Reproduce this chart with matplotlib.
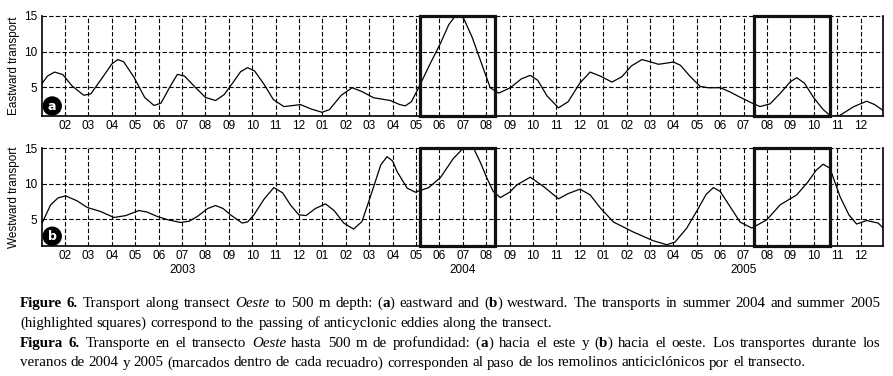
import matplotlib
matplotlib.use("Agg")
import matplotlib.pyplot as plt
import matplotlib.transforms as mtransforms
from matplotlib.patches import Rectangle
from matplotlib import font_manager

# ---------------- data (months since Jan 2003) ----------------
east_month = [0.0, 0.25, 0.55, 0.9, 1.3, 1.8, 2.1, 2.6, 3.0, 3.25, 3.5, 3.94, 4.4, 4.8, 5.1, 5.5,
              5.8, 6.1, 6.6, 7.0, 7.43, 7.8, 8.2, 8.5, 8.8, 9.1, 9.49, 9.9, 10.35, 10.7, 11.06,
              11.5, 11.98, 12.3, 12.8, 13.27, 13.7, 14.19, 14.9, 15.3, 15.54, 15.8, 16.11, 16.6,
              17.04, 17.4, 17.7, 18.03, 18.4, 18.75, 19.17, 19.53, 20.03, 20.5, 20.88, 21.2, 21.6,
              22.09, 22.5, 23.0, 23.44, 23.87, 24.37, 24.8, 25.2, 25.65, 26.0, 26.36, 26.7, 27.0,
              27.3, 27.7, 28.14, 28.5, 29.0, 29.4, 29.85, 30.3, 30.7, 31.13, 31.6, 32.0, 32.27,
              32.6, 32.98, 33.4, 33.76, 34.1, 34.7, 35.26, 35.6, 35.97]
east_value = [5.5, 6.6, 7.15, 6.8, 5.2, 3.9, 4.1, 6.4, 8.3, 8.9, 8.6, 6.45, 3.6, 2.47, 2.8, 5.2,
              6.83, 6.6, 4.9, 3.6, 3.17, 4.0, 5.8, 7.2, 7.77, 7.3, 5.5, 3.3, 2.32, 2.45, 2.6,
              2.0, 1.52, 1.9, 3.9, 4.96, 4.4, 3.55, 3.17, 2.6, 2.42, 3.0, 4.96, 8.3,
              11.15, 13.8, 15.1, 14.7, 12.0, 8.8, 4.96, 4.2, 4.96, 6.2, 6.69, 6.0, 3.8,
              2.14, 3.0, 5.6, 7.15, 6.6, 5.75, 6.5, 8.0, 8.9, 8.6, 8.24, 8.4, 8.56,
              8.1, 6.6, 5.14, 4.95, 4.96, 4.4, 3.63, 2.9, 2.32, 2.7, 4.3, 5.8, 6.36,
              5.6, 3.63, 1.9, 0.9, 1.06, 2.3, 3.07, 2.6, 1.76]

west_month = [0.0, 0.38, 0.7, 1.02, 1.5, 1.95, 2.52, 3.09, 3.6, 4.15, 4.5, 4.94, 5.4, 5.93, 6.3,
              6.65, 7.1, 7.43, 7.75, 8.07, 8.57, 8.8, 9.07, 9.5, 9.92, 10.3, 10.63, 10.99, 11.3,
              11.7, 12.13, 12.5, 12.91, 13.33, 13.69, 14.12, 14.49, 14.76, 15.0, 15.19, 15.62,
              15.97, 16.54, 17.04, 17.6, 18.1, 18.46, 18.75, 19.03, 19.3, 19.6, 20.0, 20.31,
              20.88, 21.45, 22.09, 22.5, 23.01, 23.44, 23.87, 24.44, 25.29, 26.14, 26.72, 27.07,
              27.57, 28.07, 28.4, 28.71, 29.0, 29.28, 29.85, 30.35, 30.99, 31.56, 32.27, 32.76,
              33.1, 33.4, 33.69, 34.12, 34.5, 34.83, 35.26, 35.75, 35.97]
west_value = [4.3, 7.01, 8.0, 8.28, 7.6, 6.64, 6.07, 5.23, 5.5, 6.21, 6.0, 5.37, 4.9, 4.52, 4.7,
              5.37, 6.5, 6.92, 6.5, 5.6, 4.44, 4.6, 5.6, 7.8, 9.45, 8.7, 7.01, 5.6, 5.5,
              6.5, 7.15, 6.2, 4.44, 3.59, 4.66, 8.89, 12.65, 13.82, 13.2, 11.7, 9.37,
              8.8, 9.45, 10.86, 13.59, 15.3, 15.0, 13.0, 10.77, 8.9, 8.04, 8.8, 9.83,
              10.92, 9.6, 7.86, 8.6, 9.23, 8.42, 6.6, 4.58, 3.17, 1.94, 1.38, 1.76,
              3.73, 6.55, 8.5, 9.45, 8.9, 7.48, 4.58, 3.73, 4.9, 7.01, 8.42, 10.3,
              11.9, 12.75, 12.18, 8.18, 5.6, 4.3, 4.8, 4.44, 3.73]

box_start = [16.15, 30.44]   # highlighted periods (months since Jan 2003)
box_end = [19.39, 33.69]

tick_months = list(range(1, 36))
tick_labels = ["%02d" % (m % 12 + 1) for m in tick_months]
year_labels = ["2003", "2004", "2005"]
year_pos = [6, 18, 30]
y_ticks = [5, 10, 15]

# ---------------- fonts ----------------
names = {f.name for f in font_manager.fontManager.ttflist}
NARROW = "Liberation Sans Narrow" if "Liberation Sans Narrow" in names else "Liberation Sans"
SERIF = "Liberation Serif"

W, H = 893, 376
fig = plt.figure(figsize=(W / 100, H / 100), dpi=100)

def axes_rect(x0, y0, x1, y1):
    return [x0 / W, 1 - y1 / H, (x1 - x0) / W, (y1 - y0) / H]

ax_a = fig.add_axes(axes_rect(41.7, 16, 883.3, 116))
ax_b = fig.add_axes(axes_rect(41.7, 148.3, 883.3, 246))

panels = [(ax_a, east_month, east_value, "Eastward transport", "a", (1.0, 15.0)),
          (ax_b, west_month, west_value, "Westward transport", "b", (1.2, 15.0))]

for ax, xm, yv, ylabel, letter, ylim in panels:
    ax.set_xlim(0, 35.97)
    ax.set_ylim(*ylim)
    for m in tick_months:
        ax.axvline(m, color="black", lw=0.8, ls=(0, (4, 2)), zorder=1)
    for yt in y_ticks:
        ax.axhline(yt, color="black", lw=0.8, ls=(0, (4, 2)), zorder=1, clip_on=False)
    ax.plot(xm, yv, color="black", lw=0.9, zorder=3, solid_joinstyle="round")
    ax.set_xticks(tick_months)
    ax.set_xticklabels(tick_labels, fontsize=8.5, family=NARROW)
    ax.set_yticks(y_ticks)
    ax.set_yticklabels([str(v) for v in y_ticks], fontsize=8.5, family=NARROW)
    ax.tick_params(length=0, pad=3)
    ax.spines["top"].set_visible(False)
    for s in ["left", "bottom", "right"]:
        ax.spines[s].set_linewidth(1.2)
    ax.set_ylabel(ylabel, fontsize=8.5, family=NARROW, labelpad=3)
    ax.text(0.0125, 0.10, letter, transform=ax.transAxes, color="white", fontsize=9,
            fontweight="bold", family="DejaVu Sans", ha="center", va="center",
            bbox=dict(boxstyle="circle,pad=0.2", fc="black", ec="black"), zorder=5)
    trans = mtransforms.blended_transform_factory(ax.transData, ax.transAxes)
    for xs, xe in zip(box_start, box_end):
        ax.add_patch(Rectangle((xs, 0), xe - xs, 1, transform=trans, fill=False,
                               ec="#111111", lw=2.3, zorder=4, clip_on=False))

trans_b = mtransforms.blended_transform_factory(ax_b.transData, ax_b.transAxes)
for lab, xp in zip(year_labels, year_pos):
    ax_b.text(xp, -0.245, lab, transform=trans_b, ha="center", va="center",
              fontsize=8.5, family=NARROW)

# ---------------- caption (justified) ----------------
N, B, I = ("normal", "normal"), ("bold", "normal"), ("normal", "italic")
line1 = [[("Figure", B)], [("6.", B)], [("Transport", N)], [("along", N)], [("transect", N)],
         [("Oeste", I)], [("to", N)], [("500", N)], [("m", N)], [("depth:", N)],
         [("(", N), ("a", B), (")", N)], [("eastward", N)], [("and", N)],
         [("(", N), ("b", B), (")", N)], [("westward.", N)], [("The", N)], [("transports", N)],
         [("in", N)], [("summer", N)], [("2004", N)], [("and", N)], [("summer", N)], [("2005", N)]]
line2 = [[(w, N)] for w in "(highlighted squares) correspond to the passing of anticyclonic eddies along the transect.".split()]
line3 = [[("Figura", B)], [("6.", B)], [("Transporte", N)], [("en", N)], [("el", N)],
         [("transecto", N)], [("Oeste", I)], [("hasta", N)], [("500", N)], [("m", N)], [("de", N)],
         [("profundidad:", N)], [("(", N), ("a", B), (")", N)], [("hacia", N)], [("el", N)],
         [("este", N)], [("y", N)], [("(", N), ("b", B), (")", N)], [("hacia", N)], [("el", N)],
         [("oeste.", N)], [("Los", N)], [("transportes", N)], [("durante", N)], [("los", N)]]
line4 = [[(w, N)] for w in "veranos de 2004 y 2005 (marcados dentro de cada recuadro) corresponden al paso de los remolinos anticiclónicos por el transecto.".split()]

renderer = fig.canvas.get_renderer()

def ink_width(s, st, size):
    t = fig.text(0, 0, s, fontsize=size, family=SERIF, fontweight=st[0], fontstyle=st[1])
    w = t.get_window_extent(renderer).width
    t.remove()
    return w

def seg_width(s, st, size):
    # advance width: bracket with "x" so side bearings are counted
    return ink_width("x" + s + "x", st, size) - ink_width("xx", st, size)

def space_width(size):
    return ink_width("x x", N, size) - ink_width("xx", N, size)

def natural_width(words, size):
    return sum(seg_width(s, st, size) for wd in words for s, st in wd) + space_width(size) * (len(words) - 1)

X0 = 20
base = 10.0
scale = 0.5 * ((549 - X0) / natural_width(line2, base) + (805 - X0) / natural_width(line4, base))
CAP = base * scale

def draw_line(words, y, justify_to=None, x0=X0):
    size = CAP
    widths = [[seg_width(s, st, size) for s, st in wd] for wd in words]
    total = sum(sum(w) for w in widths)
    if justify_to is None:
        gap = space_width(size)
    else:
        gap = (justify_to - x0 - total) / (len(words) - 1)
    x = x0
    for wd, ws in zip(words, widths):
        for (s, st), w in zip(wd, ws):
            fig.text(x / W, 1 - y / H, s, fontsize=size, family=SERIF, fontweight=st[0],
                     fontstyle=st[1], ha="left", va="baseline")
            x += w
        x += gap

draw_line(line1, 307, justify_to=880)
draw_line(line2, 327)
draw_line(line3, 347, justify_to=880)
draw_line(line4, 366.5)

fig.savefig("out.png", dpi=100)
